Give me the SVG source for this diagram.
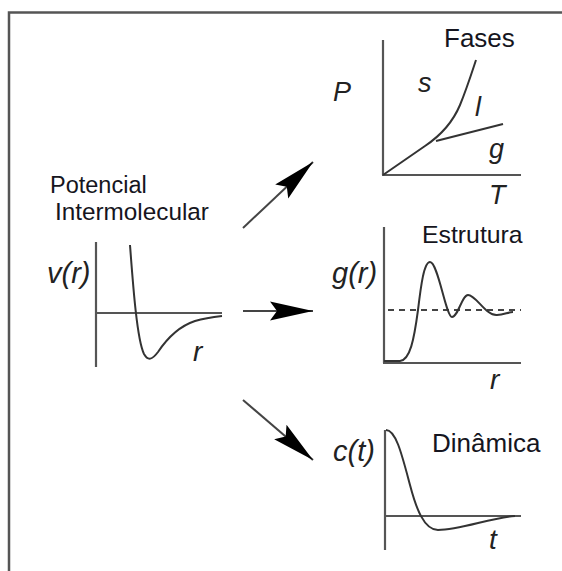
<svg xmlns="http://www.w3.org/2000/svg" width="562" height="571" viewBox="0 0 562 571">
<style>
.lbl{font-family:"Liberation Sans",Arial,sans-serif;fill:#151520}
.it{font-family:"Liberation Sans",Arial,sans-serif;font-style:italic;fill:#222}
.ax{stroke:#555;stroke-width:2.2;fill:none}
.cv{stroke:#333;stroke-width:2;fill:none}
.conn{stroke:#444;stroke-width:2;fill:none}
</style>
<defs>
<marker id="head" markerUnits="userSpaceOnUse" markerWidth="50" markerHeight="24" viewBox="-46 -12 48 24" refX="0" refY="0" orient="auto">
<path d="M0,0 L-43,-9.5 L-36,0 L-43,9.5 Z" fill="#000"/>
</marker>
</defs>
<rect width="562" height="571" fill="#fff"/>
<g id="frame">
<path d="M9,571 L9,12.5 L562,12.5" stroke="#555" stroke-width="2.5" fill="none"/>
</g>
<g id="potencial">
<text class="lbl" x="50" y="193" font-size="23.5">Potencial</text>
<text class="lbl" x="55" y="220" font-size="24.3">Intermolecular</text>
<text class="it" x="47" y="283" font-size="29">v(r)</text>
<line class="ax" x1="96" y1="242" x2="96" y2="367"/>
<line class="ax" x1="96" y1="313" x2="222" y2="313"/>
<path class="cv" d="M130,245 C133,285 137,340 144,354 C148,361 152,360 158,352 C168,337 180,326 195,321 C205,318 213,317 222,316"/>
<text class="it" x="193" y="361" font-size="28">r</text>
</g>
<g id="fases">
<text class="lbl" x="444" y="47" font-size="26">Fases</text>
<text class="it" x="333" y="101" font-size="27">P</text>
<line class="ax" x1="383" y1="40" x2="383" y2="175"/>
<line class="ax" x1="382" y1="175" x2="521" y2="175"/>
<path class="cv" d="M383,175 L425,146 C440,136 452,124 460,105 C467,88 472,72 476,60"/>
<path class="cv" d="M436,141 L503,124"/>
<text class="it" x="418" y="92" font-size="27">s</text>
<text class="it" x="475" y="116" font-size="27">l</text>
<text class="it" x="489" y="158" font-size="27">g</text>
<text class="it" x="489" y="204" font-size="27">T</text>
</g>
<g id="estrutura">
<text class="lbl" x="422" y="243" font-size="24.8">Estrutura</text>
<text class="it" x="332" y="283" font-size="29">g(r)</text>
<line class="ax" x1="384" y1="227" x2="384" y2="363"/>
<line class="ax" x1="383" y1="363" x2="521" y2="363"/>
<line x1="388" y1="310" x2="521" y2="310" stroke="#444" stroke-width="1.8" stroke-dasharray="6,5"/>
<path class="cv" d="M384,361 L400,361 C410,360 414,340 418,310 C421,285 424,262 430,262 C438,262 446,317 452,317 C458,317 462,295 468,295 C476,295 486,316 497,315 C504,315 508,312 513,312"/>
<text class="it" x="490" y="389" font-size="28">r</text>
</g>
<g id="dinamica">
<text class="lbl" x="432" y="452" font-size="26">Dinâmica</text>
<text class="it" x="333" y="461" font-size="29">c(t)</text>
<line class="ax" x1="385" y1="430" x2="385" y2="550"/>
<line class="ax" x1="384" y1="516" x2="521" y2="516"/>
<path class="cv" d="M386,430 C396,430 402,455 410,485 C416,508 424,530 438,530 C460,530 490,518 515,516"/>
<text class="it" x="489" y="549" font-size="28">t</text>
</g>
<g id="connectors">
<line class="conn" x1="243" y1="228" x2="313" y2="162" marker-end="url(#head)"/>
<line class="conn" x1="243" y1="311" x2="313" y2="311" marker-end="url(#head)"/>
<line class="conn" x1="243" y1="400" x2="313" y2="460" marker-end="url(#head)"/>
</g>
</svg>
